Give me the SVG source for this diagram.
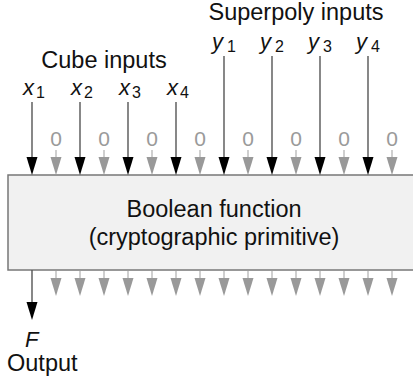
<svg xmlns="http://www.w3.org/2000/svg" xmlns:xlink="http://www.w3.org/1999/xlink" width="413" height="383" viewBox="0 0 413 383">
<style>
text{font-family:"Liberation Sans",Arial,sans-serif;fill:#111}
.t{font-size:23.5px}
.v{font-size:22px;font-style:italic}
.s{font-size:16px}
.z{font-size:21px;fill:#9a9a9a;text-anchor:middle}
.lb{stroke:#555;stroke-width:1.4}
.lg{stroke:#bbb;stroke-width:1.4}
.hb{fill:#000}
.hg{fill:#999}
</style>
<defs>
<path id="head" d="M-5.5,-18 L5.5,-18 L0,0 Z"/>
</defs>
<g id="box">
<rect x="8" y="175" width="420" height="95" fill="#f1f1f1" stroke="#777" stroke-width="1.5"/>
<text class="t" x="214" y="217" text-anchor="middle">Boolean function</text>
<text class="t" x="214" y="245" text-anchor="middle">(cryptographic primitive)</text>
</g>
<g id="cube-label"><text class="t" x="104" y="67.5" text-anchor="middle">Cube inputs</text></g>
<g id="superpoly-label"><text class="t" x="296" y="20" text-anchor="middle">Superpoly inputs</text></g>
<g id="x-labels">
<text class="v" x="23" y="95">x</text><text class="s" x="36" y="98">1</text>
<text class="v" x="71" y="95">x</text><text class="s" x="84" y="98">2</text>
<text class="v" x="119" y="95">x</text><text class="s" x="132" y="98">3</text>
<text class="v" x="167" y="95">x</text><text class="s" x="180" y="98">4</text>
</g>
<g id="y-labels">
<text class="v" x="212" y="49">y</text><text class="s" x="227" y="52">1</text>
<text class="v" x="260" y="49">y</text><text class="s" x="275" y="52">2</text>
<text class="v" x="308" y="49">y</text><text class="s" x="323" y="52">3</text>
<text class="v" x="356" y="49">y</text><text class="s" x="371" y="52">4</text>
</g>
<g id="zero-labels">
<text class="z" x="56" y="146">0</text>
<text class="z" x="104" y="146">0</text>
<text class="z" x="152" y="146">0</text>
<text class="z" x="200" y="146">0</text>
<text class="z" x="248" y="146">0</text>
<text class="z" x="296" y="146">0</text>
<text class="z" x="344" y="146">0</text>
<text class="z" x="392" y="146">0</text>
</g>
<g id="output-label">
<text class="v" x="25" y="347">F</text>
<text class="t" x="7" y="371">Output</text>
</g>
<g id="connectors">
<g class="lb">
<line x1="32" y1="102" x2="32" y2="158"/>
<line x1="80" y1="102" x2="80" y2="158"/>
<line x1="128" y1="102" x2="128" y2="158"/>
<line x1="176" y1="102" x2="176" y2="158"/>
<line x1="224" y1="56" x2="224" y2="158"/>
<line x1="272" y1="56" x2="272" y2="158"/>
<line x1="320" y1="56" x2="320" y2="158"/>
<line x1="368" y1="56" x2="368" y2="158"/>
<line x1="32" y1="270" x2="32" y2="303"/>
</g>
<g class="hb">
<use xlink:href="#head" x="32" y="175"/>
<use xlink:href="#head" x="80" y="175"/>
<use xlink:href="#head" x="128" y="175"/>
<use xlink:href="#head" x="176" y="175"/>
<use xlink:href="#head" x="224" y="175"/>
<use xlink:href="#head" x="272" y="175"/>
<use xlink:href="#head" x="320" y="175"/>
<use xlink:href="#head" x="368" y="175"/>
<use xlink:href="#head" x="32" y="320"/>
</g>
<g class="lg">
<line x1="56" y1="150" x2="56" y2="158"/>
<line x1="104" y1="150" x2="104" y2="158"/>
<line x1="152" y1="150" x2="152" y2="158"/>
<line x1="200" y1="150" x2="200" y2="158"/>
<line x1="248" y1="150" x2="248" y2="158"/>
<line x1="296" y1="150" x2="296" y2="158"/>
<line x1="344" y1="150" x2="344" y2="158"/>
<line x1="392" y1="150" x2="392" y2="158"/>
<line x1="56" y1="271" x2="56" y2="279"/>
<line x1="80" y1="271" x2="80" y2="279"/>
<line x1="104" y1="271" x2="104" y2="279"/>
<line x1="128" y1="271" x2="128" y2="279"/>
<line x1="152" y1="271" x2="152" y2="279"/>
<line x1="176" y1="271" x2="176" y2="279"/>
<line x1="200" y1="271" x2="200" y2="279"/>
<line x1="224" y1="271" x2="224" y2="279"/>
<line x1="248" y1="271" x2="248" y2="279"/>
<line x1="272" y1="271" x2="272" y2="279"/>
<line x1="296" y1="271" x2="296" y2="279"/>
<line x1="320" y1="271" x2="320" y2="279"/>
<line x1="344" y1="271" x2="344" y2="279"/>
<line x1="368" y1="271" x2="368" y2="279"/>
<line x1="392" y1="271" x2="392" y2="279"/>
</g>
<g class="hg">
<use xlink:href="#head" x="56" y="175"/>
<use xlink:href="#head" x="104" y="175"/>
<use xlink:href="#head" x="152" y="175"/>
<use xlink:href="#head" x="200" y="175"/>
<use xlink:href="#head" x="248" y="175"/>
<use xlink:href="#head" x="296" y="175"/>
<use xlink:href="#head" x="344" y="175"/>
<use xlink:href="#head" x="392" y="175"/>
<use xlink:href="#head" x="56" y="296"/>
<use xlink:href="#head" x="80" y="296"/>
<use xlink:href="#head" x="104" y="296"/>
<use xlink:href="#head" x="128" y="296"/>
<use xlink:href="#head" x="152" y="296"/>
<use xlink:href="#head" x="176" y="296"/>
<use xlink:href="#head" x="200" y="296"/>
<use xlink:href="#head" x="224" y="296"/>
<use xlink:href="#head" x="248" y="296"/>
<use xlink:href="#head" x="272" y="296"/>
<use xlink:href="#head" x="296" y="296"/>
<use xlink:href="#head" x="320" y="296"/>
<use xlink:href="#head" x="344" y="296"/>
<use xlink:href="#head" x="368" y="296"/>
<use xlink:href="#head" x="392" y="296"/>
</g>
</g>
</svg>
